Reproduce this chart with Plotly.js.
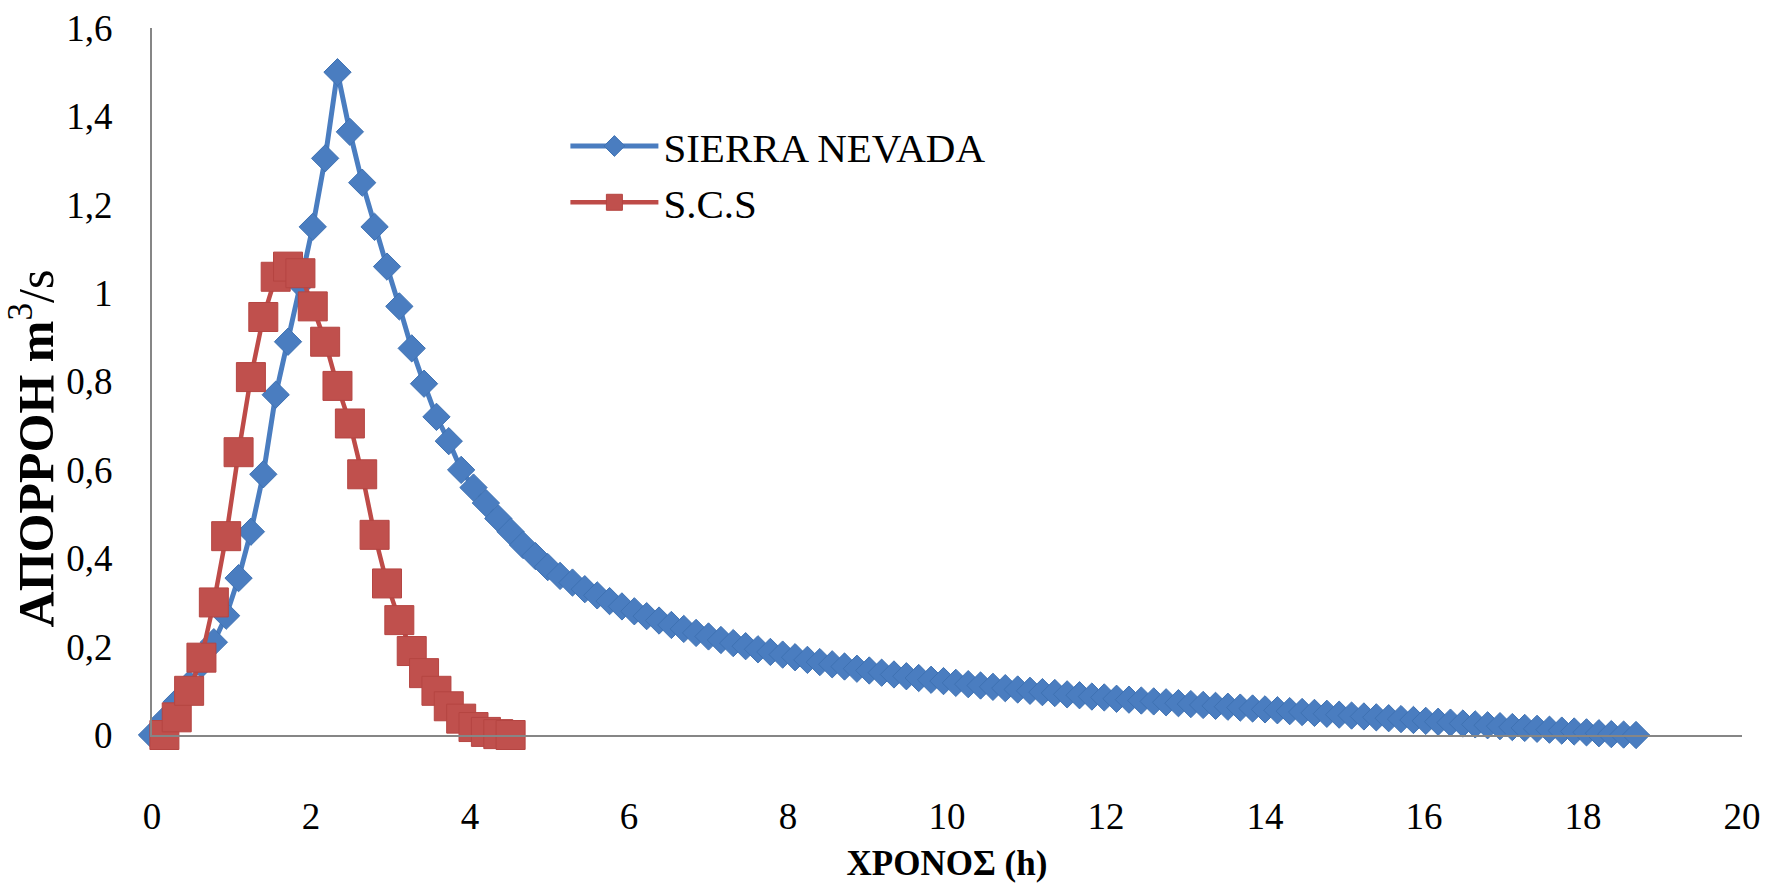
<!DOCTYPE html>
<html>
<head>
<meta charset="utf-8">
<script src="https://cdn.plot.ly/plotly-3.0.1.min.js"></script>
<style>
  html, body { margin: 0; padding: 0; background: #ffffff; }
  #chart { width: 1769px; height: 883px; }
</style>
</head>
<body>
<div id="chart"></div>
<script>
// Time (h) and runoff (m3/s) — SIERRA NEVADA
var sierraTime = [
  0, 0.156, 0.311, 0.467, 0.622, 0.778, 0.933, 1.089, 1.244, 1.4,
  1.556, 1.711, 1.867, 2.022, 2.178, 2.333, 2.489, 2.644, 2.8, 2.956,
  3.111, 3.267, 3.422, 3.578, 3.733, 3.889, 4.044, 4.2, 4.356, 4.511,
  4.667, 4.822, 4.978, 5.133, 5.289, 5.444, 5.6, 5.756, 5.911, 6.067,
  6.222, 6.378, 6.533, 6.689, 6.844, 7, 7.156, 7.311, 7.467, 7.622,
  7.778, 7.933, 8.089, 8.244, 8.4, 8.556, 8.711, 8.867, 9.022, 9.178,
  9.333, 9.489, 9.644, 9.8, 9.956, 10.111, 10.267, 10.422, 10.578, 10.733,
  10.889, 11.044, 11.2, 11.356, 11.511, 11.667, 11.822, 11.978, 12.133, 12.289,
  12.444, 12.6, 12.756, 12.911, 13.067, 13.222, 13.378, 13.533, 13.689, 13.844,
  14, 14.156, 14.311, 14.467, 14.622, 14.778, 14.933, 15.089, 15.244, 15.4,
  15.556, 15.711, 15.867, 16.022, 16.178, 16.333, 16.489, 16.644, 16.8, 16.956,
  17.111, 17.267, 17.422, 17.578, 17.733, 17.889, 18.044, 18.2, 18.356, 18.511,
  18.667
];
var sierraFlow = [
  0, 0.035, 0.075, 0.115, 0.16, 0.21, 0.27, 0.355, 0.46, 0.59,
  0.77, 0.89, 1.02, 1.15, 1.305, 1.5, 1.365, 1.25, 1.15, 1.06,
  0.97, 0.875, 0.795, 0.72, 0.665, 0.6, 0.56, 0.525, 0.49, 0.46,
  0.43, 0.405, 0.38, 0.36, 0.345, 0.33, 0.316, 0.303, 0.291, 0.28,
  0.269, 0.259, 0.249, 0.24, 0.231, 0.223, 0.215, 0.208, 0.201, 0.194,
  0.188, 0.182, 0.176, 0.17, 0.165, 0.16, 0.155, 0.15, 0.146, 0.141,
  0.137, 0.133, 0.129, 0.125, 0.122, 0.118, 0.115, 0.112, 0.109, 0.106,
  0.103, 0.1, 0.097, 0.095, 0.092, 0.09, 0.087, 0.085, 0.082, 0.08,
  0.078, 0.076, 0.074, 0.072, 0.07, 0.068, 0.066, 0.064, 0.062, 0.06,
  0.058, 0.056, 0.054, 0.052, 0.05, 0.048, 0.046, 0.044, 0.042, 0.04,
  0.038, 0.036, 0.034, 0.032, 0.03, 0.028, 0.026, 0.024, 0.022, 0.02,
  0.018, 0.016, 0.014, 0.012, 0.01, 0.008, 0.006, 0.004, 0.002, 0.001,
  0
];

// Time (h) and runoff (m3/s) — S.C.S
var scsTime = [
  0.156, 0.311, 0.467, 0.622, 0.778, 0.933, 1.089, 1.244, 1.4, 1.556,
  1.711, 1.867, 2.022, 2.178, 2.333, 2.489, 2.644, 2.8, 2.956, 3.111,
  3.267, 3.422, 3.578, 3.733, 3.889, 4.044, 4.2, 4.356, 4.511
];
var scsFlow = [
  0, 0.04, 0.10, 0.175, 0.30, 0.45, 0.64, 0.81, 0.946, 1.037,
  1.06, 1.045, 0.97, 0.89, 0.79, 0.705, 0.59, 0.453, 0.343, 0.26,
  0.19, 0.14, 0.10, 0.065, 0.037, 0.018, 0.007, 0.002, 0
];

var seriesNames = ['SIERRA NEVADA', 'S.C.S'];
var xTicks = [0, 2, 4, 6, 8, 10, 12, 14, 16, 18, 20];
var yTicks = [0, 0.2, 0.4, 0.6, 0.8, 1, 1.2, 1.4, 1.6];

var serif = 'Liberation Serif';

var traces = [
  {
    x: sierraTime, y: sierraFlow, name: seriesNames[0],
    type: 'scatter', mode: 'lines+markers', cliponaxis: false,
    legendgroup: 'a',
    line: { color: '#4a7dc0', width: 5 },
    marker: { symbol: 'diamond', size: 21, color: '#4a7dc0', line: { color: '#3f72b3', width: 1 } }
  },
  {
    x: scsTime, y: scsFlow, name: seriesNames[1],
    type: 'scatter', mode: 'lines+markers', cliponaxis: false,
    legendgroup: 'b',
    line: { color: '#be4b48', width: 4.5 },
    marker: { symbol: 'square', size: 29, color: '#c0504d', line: { color: '#b54542', width: 1 } }
  }
];

var layout = {
  width: 1769, height: 883,
  paper_bgcolor: '#ffffff', plot_bgcolor: '#ffffff',
  margin: { l: 152, r: 27, t: 28, b: 148 },
  separators: ', ',
  font: { family: serif, color: '#000000', size: 37 },
  showlegend: true,
  legend: {
    x: 0.26, y: 0.88, xanchor: 'left', yanchor: 'top',
    bgcolor: 'rgba(0,0,0,0)',
    font: { family: serif, size: 41, color: '#000000' },
    itemwidth: 88, tracegroupgap: 0, traceorder: 'grouped',
    itemsizing: 'trace'
  },
  xaxis: {
    range: [0, 20], tickvals: xTicks, ticks: '',
    showline: true, linecolor: '#868686', linewidth: 2,
    showgrid: false, zeroline: false,
    tickfont: { family: serif, size: 37, color: '#000000' },
    ticklabelstandoff: 48,
    title: { text: '<b>ΧΡΟΝΟΣ (h)</b>', font: { family: serif, size: 35, color: '#000000' }, standoff: 14 }
  },
  yaxis: {
    range: [0, 1.6], tickvals: yTicks, ticks: '',
    showline: true, linecolor: '#868686', linewidth: 2,
    showgrid: false, zeroline: false,
    tickfont: { family: serif, size: 37, color: '#000000' },
    ticklabelstandoff: 30
  },
  annotations: [
    {
      text: '<b>ΑΠΟΡΡΟΗ m</b><sup>3</sup>/s',
      xref: 'paper', yref: 'paper', x: -0.075, y: 0.405,
      xanchor: 'center', yanchor: 'middle', textangle: -90, showarrow: false,
      font: { family: serif, size: 50, color: '#000000' }
    }
  ]
};

Plotly.newPlot('chart', traces, layout, { displayModeBar: false, staticPlot: true });
</script>
</body>
</html>
